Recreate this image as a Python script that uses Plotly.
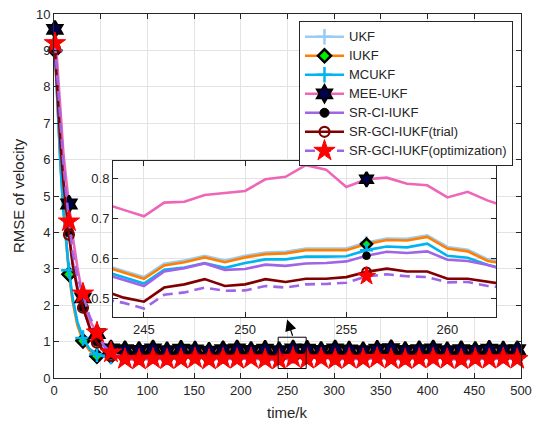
import plotly.graph_objects as go

# ---------------- data ----------------
T_EARLY = [1, 4, 7, 10, 13, 16, 20, 25, 31, 38, 46, 53, 61]
T_MID = [76, 91, 106, 121, 136, 151, 166, 181, 196, 211, 226, 241]
T_INSET = [243, 244, 245, 246, 247, 248, 249, 250, 251, 252, 253, 254, 255,
           256, 257, 258, 259, 260, 261, 262, 263]
T_LATE = [271, 286, 301, 316, 331, 346, 361, 376, 391, 406, 421, 436, 451,
          466, 481, 496, 500]
T = T_EARLY + T_MID + T_INSET + T_LATE

UKF = ([9.0, 7.25, 5.85, 4.65, 3.7, 2.95, 2.15, 1.5, 1.08, 0.78, 0.63, 0.6, 0.6]
       + [0.62, 0.61, 0.63, 0.60, 0.62, 0.64, 0.61, 0.63, 0.62, 0.64, 0.61, 0.60]
       + [0.585, 0.569, 0.554, 0.587, 0.595, 0.607, 0.595, 0.607, 0.615, 0.617, 0.625,
          0.625, 0.625, 0.640, 0.650, 0.649, 0.658, 0.629, 0.622, 0.598, 0.590]
       + [0.62, 0.64, 0.61, 0.63, 0.62, 0.65, 0.62, 0.61, 0.63, 0.64, 0.62, 0.61,
          0.63, 0.62, 0.64, 0.62, 0.62])
IUKF = ([9.0, 7.3, 5.9, 4.7, 3.65, 2.85, 2.1, 1.45, 1.02, 0.75, 0.6, 0.6, 0.6]
        + [0.62, 0.61, 0.63, 0.60, 0.62, 0.64, 0.61, 0.63, 0.62, 0.64, 0.61, 0.60]
        + [0.581, 0.565, 0.550, 0.583, 0.591, 0.603, 0.591, 0.603, 0.611, 0.613, 0.621,
           0.621, 0.621, 0.636, 0.646, 0.645, 0.654, 0.625, 0.618, 0.594, 0.586]
        + [0.62, 0.64, 0.61, 0.63, 0.62, 0.65, 0.62, 0.61, 0.63, 0.64, 0.62, 0.61,
           0.63, 0.62, 0.64, 0.62, 0.62])
MCUKF = ([9.0, 7.2, 5.8, 4.6, 3.7, 2.96, 2.2, 1.55, 1.1, 0.8, 0.65, 0.6, 0.59]
         + [0.60, 0.59, 0.61, 0.58, 0.60, 0.62, 0.59, 0.61, 0.60, 0.62, 0.59, 0.58]
         + [0.569, 0.553, 0.538, 0.572, 0.578, 0.589, 0.577, 0.589, 0.598, 0.598, 0.605,
            0.605, 0.606, 0.621, 0.630, 0.628, 0.637, 0.607, 0.602, 0.584, 0.572]
         + [0.60, 0.62, 0.59, 0.61, 0.60, 0.63, 0.60, 0.59, 0.61, 0.62, 0.60, 0.59,
            0.61, 0.60, 0.62, 0.60, 0.60])
MEE_UKF = ([9.58, 8.4, 7.1, 6.2, 5.45, 4.78, 3.9, 3.05, 2.2, 1.6, 1.22, 0.95, 0.8]
           + [0.78, 0.76, 0.80, 0.75, 0.79, 0.77, 0.74, 0.78, 0.80, 0.76, 0.79, 0.75]
           + [0.737, 0.721, 0.705, 0.739, 0.741, 0.758, 0.763, 0.768, 0.797, 0.803, 0.832,
              0.821, 0.778, 0.797, 0.801, 0.786, 0.782, 0.752, 0.766, 0.744, 0.727]
           + [0.79, 0.76, 0.80, 0.77, 0.75, 0.79, 0.81, 0.76, 0.78, 0.80, 0.75, 0.78,
              0.76, 0.79, 0.77, 0.78, 0.76])
SR_CI_IUKF = ([9.0, 7.7, 6.5, 5.5, 4.7, 4.0, 3.2, 2.5, 1.95, 1.4, 1.0, 0.78, 0.65]
              + [0.59, 0.58, 0.60, 0.57, 0.59, 0.61, 0.58, 0.60, 0.59, 0.61, 0.58, 0.57]
              + [0.562, 0.547, 0.532, 0.568, 0.576, 0.588, 0.572, 0.574, 0.585, 0.582, 0.588,
                 0.589, 0.593, 0.607, 0.617, 0.614, 0.618, 0.597, 0.594, 0.584, 0.570]
              + [0.59, 0.61, 0.58, 0.60, 0.59, 0.62, 0.59, 0.58, 0.60, 0.61, 0.59, 0.58,
                 0.60, 0.59, 0.61, 0.59, 0.59])
SR_GCI_TRIAL = ([9.05, 7.6, 6.4, 5.4, 4.6, 3.94, 3.1, 2.45, 1.93, 1.4, 0.97, 0.75, 0.61]
                + [0.55, 0.54, 0.56, 0.53, 0.55, 0.57, 0.54, 0.56, 0.55, 0.57, 0.54, 0.53]
                + [0.520, 0.503, 0.493, 0.528, 0.536, 0.549, 0.532, 0.536, 0.549, 0.542, 0.550,
                   0.550, 0.554, 0.567, 0.575, 0.568, 0.568, 0.550, 0.550, 0.542, 0.535]
                + [0.55, 0.57, 0.54, 0.56, 0.55, 0.58, 0.55, 0.54, 0.56, 0.57, 0.55, 0.54,
                   0.56, 0.55, 0.57, 0.55, 0.55])
SR_GCI_OPT = ([9.2, 8.0, 6.9, 5.9, 5.05, 4.3, 3.45, 2.8, 2.32, 1.7, 1.25, 0.9, 0.70]
              + [0.52, 0.50, 0.53, 0.51, 0.52, 0.54, 0.50, 0.53, 0.52, 0.54, 0.51, 0.50]
              + [0.500, 0.490, 0.476, 0.510, 0.516, 0.528, 0.520, 0.521, 0.532, 0.528, 0.536,
                 0.537, 0.540, 0.556, 0.561, 0.556, 0.554, 0.541, 0.542, 0.532, 0.527]
              + [0.52, 0.54, 0.51, 0.53, 0.52, 0.55, 0.52, 0.51, 0.53, 0.54, 0.52, 0.51,
                 0.53, 0.52, 0.54, 0.52, 0.52])

NAMES = ["UKF", "IUKF", "MCUKF", "MEE-UKF", "SR-CI-IUKF",
         "SR-GCI-IUKF(trial)", "SR-GCI-IUKF(optimization)"]
SERIES = [UKF, IUKF, MCUKF, MEE_UKF, SR_CI_IUKF, SR_GCI_TRIAL, SR_GCI_OPT]
MARKER_START, MARKER_STEP = 1, 15

MAIN_XTICKS = [0, 50, 100, 150, 200, 250, 300, 350, 400, 450, 500]
MAIN_YTICKS = [0, 1, 2, 3, 4, 5, 6, 7, 8, 9, 10]
INSET_XTICKS = [245, 250, 255, 260]
INSET_YTICKS = [0.5, 0.6, 0.7, 0.8]
INSET_XRANGE = [243.47, 262.4]
INSET_YRANGE = [0.4544, 0.842]
ZOOM_BOX = dict(x0=240, x1=270, y0=0.26, y1=1.12)

# ---------------- styles ----------------
STYLES = [
    dict(line=dict(color="#99CCF5", width=2.6),
         marker=dict(symbol="cross-thin", size=11, color="#99CCF5",
                     line=dict(color="#99CCF5", width=2.5))),
    dict(line=dict(color="#FF7F00", width=2.6),
         marker=dict(symbol="diamond", size=10, color="#00EE00",
                     line=dict(color="black", width=2.5))),
    dict(line=dict(color="#00B4F0", width=2.6),
         marker=dict(symbol="cross-thin", size=11, color="#00B4F0",
                     line=dict(color="#00B4F0", width=2.5))),
    dict(line=dict(color="#EE66B8", width=2.6),
         marker=dict(symbol="hexagram", size=13, color="#000050",
                     line=dict(color="black", width=2.2))),
    dict(line=dict(color="#A064E6", width=2.6),
         marker=dict(symbol="circle", size=9, color="black",
                     line=dict(color="black", width=1))),
    dict(line=dict(color="#800000", width=2.6),
         marker=dict(symbol="circle-open", size=10, color="#800000",
                     line=dict(color="#800000", width=2.2))),
    dict(line=dict(color="#A064E6", width=2.6, dash="10px,6px"),
         marker=dict(symbol="star", size=16, color="#FF0000",
                     line=dict(color="#FF0000", width=1))),
]

fig = go.Figure()

def add_series(xa, ya, scale, clip):
    for vals, st in zip(SERIES, STYLES):
        fig.add_trace(go.Scatter(x=T, y=vals, mode="lines", line=st["line"],
                                 xaxis=xa, yaxis=ya, showlegend=False,
                                 hoverinfo="skip"))
        mt = [t for t in T if (t - MARKER_START) % MARKER_STEP == 0]
        mv = [v for t, v in zip(T, vals) if (t - MARKER_START) % MARKER_STEP == 0]
        mk = dict(st["marker"])
        mk["size"] = mk["size"] * scale
        fig.add_trace(go.Scatter(x=mt, y=mv, mode="markers", marker=mk,
                                 xaxis=xa, yaxis=ya, showlegend=False,
                                 cliponaxis=clip, hoverinfo="skip"))

add_series("x", "y", 1.0, False)
add_series("x2", "y2", 0.85, True)

# legend-only entries (text kept at 13px, row pitch from the 12px legend font)
for name, st in zip(NAMES, STYLES):
    fig.add_trace(go.Scatter(x=[None], y=[None], mode="lines+markers",
                             name='<span style="font-size:13px">%s</span>' % name,
                             line=st["line"], marker=st["marker"],
                             xaxis="x", yaxis="y"))

AX = "#262626"
GRID = "#E3E3E3"
FONT = "Liberation Sans, Arial, sans-serif"

common = dict(ticks="inside", ticklen=5, tickcolor=AX, showline=True, linecolor=AX,
              linewidth=1, mirror="ticks", showgrid=True, gridcolor=GRID,
              gridwidth=1, zeroline=False, tickfont=dict(size=13, color=AX),
              ticklabeloverflow="allow")

fig.update_layout(
    width=542, height=431,
    margin=dict(l=54, r=21, t=7, b=53),
    paper_bgcolor="white", plot_bgcolor="white",
    font=dict(family=FONT, size=13, color=AX),
    xaxis=dict(range=[0, 500], tickvals=MAIN_XTICKS, domain=[0, 1], **common),
    yaxis=dict(range=[0, 10], tickvals=MAIN_YTICKS, domain=[0, 1], **common),
    xaxis2=dict(range=INSET_XRANGE, tickvals=INSET_XTICKS, anchor="y2",
                domain=[0.1263, 0.9465], **common),
    yaxis2=dict(range=INSET_YRANGE, tickvals=INSET_YTICKS, tickformat=".1f",
                anchor="x2", domain=[0.167, 0.5957], **common),
    legend=dict(x=0.5246, y=0.98, xanchor="left", yanchor="top",
                bgcolor="white", bordercolor=AX, borderwidth=1, itemwidth=39,
                font=dict(size=12, color=AX), tracegroupgap=0),
    showlegend=True,
)

fig.add_shape(type="rect", xref="x2", yref="y2",
              x0=INSET_XRANGE[0], x1=INSET_XRANGE[1],
              y0=INSET_YRANGE[0], y1=INSET_YRANGE[1],
              fillcolor="white", line=dict(width=0), layer="below")
fig.add_shape(type="rect", xref="x", yref="y", line=dict(color="black", width=1),
              layer="above", **ZOOM_BOX)

fig.add_annotation(x=249.6, y=1.61, ax=256, ay=1.12, xref="x", yref="y",
                   axref="x", ayref="y", text="", showarrow=True, arrowhead=2,
                   arrowsize=1.9, arrowwidth=1.2, arrowcolor="black")
fig.add_annotation(text="time/k", xref="paper", yref="paper", x=0.5, y=-0.094,
                   showarrow=False, yanchor="middle", font=dict(size=15, color=AX))
fig.add_annotation(text="RMSE of velocity", xref="paper", yref="paper", x=-0.077,
                   y=0.5, textangle=-90, showarrow=False, xanchor="center",
                   yanchor="middle", font=dict(size=15, color=AX))

fig.write_html("out.html",
               config={"displayModeBar": False},
               post_script="document.body.style.margin='0';"
                           "document.body.style.padding='0';")
